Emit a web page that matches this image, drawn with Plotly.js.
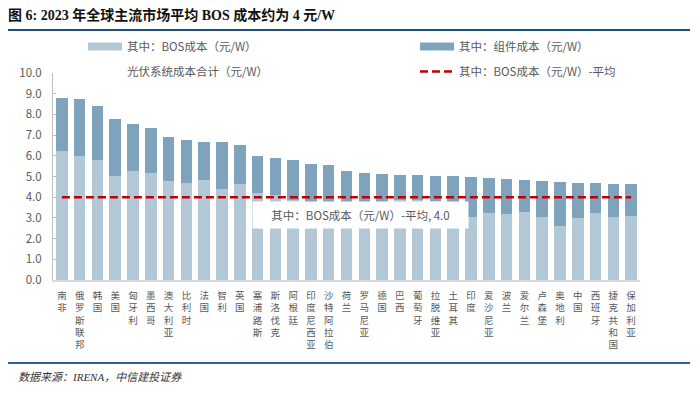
<!DOCTYPE html>
<html>
<head>
<meta charset="utf-8">
<script src="https://cdn.plot.ly/plotly-3.0.1.min.js"></script>
<style>html,body{margin:0;padding:0;background:#fff;}#chart{width:700px;height:393px;}</style>
</head>
<body>
<div id="chart"></div>
<script>
// ---- data ----
const countries = ['南非','俄罗斯联邦','韩国','美国','匈牙利','墨西哥','澳大利亚','比利时','法国','智利','英国',
  '塞浦路斯','斯洛伐克','阿根廷','印度尼西亚','沙特阿拉伯','荷兰','罗马尼亚','德国','巴西','葡萄牙','拉脱维亚',
  '土耳其','印度','爱沙尼亚','波兰','爱尔兰','卢森堡','奥地利','中国','西班牙','捷克共和国','保加利亚'];
const bosCost = [6.25,5.99,5.80,5.04,5.28,5.17,4.80,4.67,4.83,4.41,4.64,
  4.19,4.11,3.86,3.78,3.70,3.50,3.45,3.70,3.86,3.86,3.80,
  3.60,3.06,3.22,3.19,3.30,3.06,2.62,3.00,3.22,3.06,3.11];
const moduleCost = [2.53,2.74,2.62,2.72,2.26,2.17,2.11,2.08,1.84,2.26,1.88,
  1.78,1.80,1.94,1.81,1.84,1.75,1.73,1.40,1.23,1.20,1.21,
  1.41,1.90,1.71,1.70,1.51,1.72,2.11,1.69,1.47,1.58,1.51];
const bosAvg = 4.0;
const yTicks = [0,1,2,3,4,5,6,7,8,9,10];

const totalCost = bosCost.map((v,i) => +(v + moduleCost[i]).toFixed(2));
const avgLine = countries.map(() => bosAvg);

// ---- styling ----
const cLight = '#B3C8D7';
const cDark = '#7FA3BC';
const cRed = '#C00000';
const txt = '#595959';
const cjk = '"Noto Sans CJK SC", "Noto Sans", sans-serif';

const W = 700, H = 393;
const mL = 53, mR = 60, mT = 73, mB = 113;
const pw = W - mL - mR, ph = H - mT - mB;
const px = x => (x - mL) / pw;
const py = y => (H - mB - y) / ph;

const traces = [
  {type:'bar', name:'其中：BOS成本（元/W）', x:countries, y:bosCost, marker:{color:cLight}, width:0.65, showlegend:false, hoverinfo:'y'},
  {type:'bar', name:'其中：组件成本（元/W）', x:countries, y:moduleCost, marker:{color:cDark}, width:0.65, showlegend:false, hoverinfo:'y'},
  // legend entries
  {type:'scatter', mode:'lines', name:'其中：BOS成本（元/W）', x:[null], y:[null], line:{color:cLight, width:8},
    legend:'legend', legendgroup:'a', hoverinfo:'skip'},
  {type:'scatter', mode:'lines', name:'光伏系统成本合计（元/W）', x:countries, y:totalCost, line:{color:'rgba(0,0,0,0)', width:1},
    legend:'legend', legendgroup:'b', hoverinfo:'skip'},
  {type:'scatter', mode:'lines', name:'其中：组件成本（元/W）', x:[null], y:[null], line:{color:cDark, width:8},
    legend:'legend2', legendgroup:'c', hoverinfo:'skip'},
  {type:'scatter', mode:'lines', name:'其中：BOS成本（元/W）-平均', x:countries, y:avgLine,
    line:{color:cRed, width:2.5, dash:'8px,4px'}, legend:'legend2', legendgroup:'d', hoverinfo:'y'}
];

const legendCommon = {
  orientation:'v', xref:'paper', yref:'paper', xanchor:'left', yanchor:'top',
  bgcolor:'rgba(0,0,0,0)', borderwidth:0, itemwidth:34, tracegroupgap:6, traceorder:'grouped',
  font:{family:cjk, size:11.5, color:txt}
};

const layout = {
  width:W, height:H,
  margin:{l:mL, r:mR, t:mT, b:mB, pad:0, autoexpand:false},
  paper_bgcolor:'#fff', plot_bgcolor:'#fff',
  barmode:'stack',
  bargap:0.35,
  showlegend:true,
  title:{
    text:'<b>图 6: 2023 年全球主流市场平均 BOS 成本约为 4 元/W</b>',
    x:8/W, xref:'container', xanchor:'left',
    y:1-15/H, yref:'container', yanchor:'middle',
    font:{family:'"Liberation Serif", "Noto Sans CJK SC", serif', size:14, color:'#111'}
  },
  legend:Object.assign({}, legendCommon, {x:px(83), y:py(32)}),
  legend2:Object.assign({}, legendCommon, {x:px(415), y:py(32)}),
  xaxis:{
    type:'category', range:[-0.5, countries.length-0.5],
    tickvals:countries, ticktext:countries.map(c => c.split('').join('<br>')),
    tickangle:0, ticks:'', ticklabelstandoff:6,
    tickfont:{family:cjk, size:9.5, color:txt},
    showline:true, linecolor:'#D9D9D9', linewidth:1.5, automargin:false,
    showgrid:false, zeroline:false, fixedrange:true
  },
  yaxis:{
    range:[0,10], tickvals:yTicks, ticktext:yTicks.map(v => v.toFixed(1)),
    ticks:'inside', ticklen:3, tickcolor:'#BFBFBF',
    showline:true, linecolor:'#BFBFBF', linewidth:1, automargin:false,
    showgrid:false, zeroline:false,
    tickfont:{family:cjk, size:11.5, color:txt}, ticklabelstandoff:8, fixedrange:true
  },
  shapes:[
    {type:'line', xref:'paper', yref:'paper', x0:px(8), x1:px(690), y0:py(30), y1:py(30), line:{color:'#1F4E79', width:2}},
    {type:'line', xref:'paper', yref:'paper', x0:px(8), x1:px(690), y0:py(363), y1:py(363), line:{color:'#2E6394', width:2}}
  ],
  annotations:[
    {text:'其中：BOS成本（元/W）-平均, ' + bosAvg.toFixed(1), x:15.6, y:bosAvg, xref:'x', yref:'y',
     showarrow:true, arrowhead:0, arrowwidth:1, arrowcolor:'#A6A6A6', ax:21, ay:18,
     bgcolor:'#FFFFFF', width:215, height:26, borderpad:0,
     font:{family:cjk, size:11.5, color:txt}},
    {text:'<i>数据来源：IRENA，中信建投证券</i>', xref:'paper', yref:'paper', x:px(16), y:py(377),
     xanchor:'left', yanchor:'middle', showarrow:false,
     font:{family:'"Liberation Serif", "Noto Sans CJK SC", serif', size:11, color:'#333'}}
  ]
};

Plotly.newPlot('chart', traces, layout, {staticPlot:true, displayModeBar:false});
</script>
</body>
</html>
